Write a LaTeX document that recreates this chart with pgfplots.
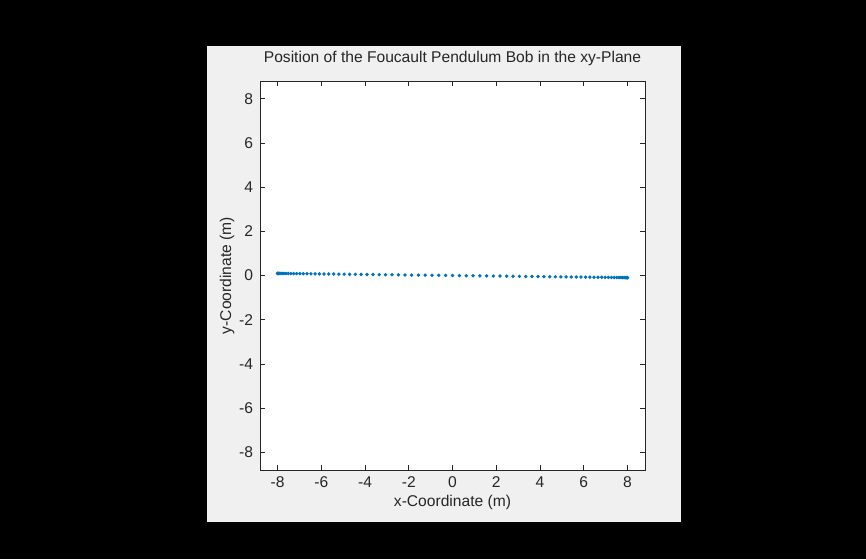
\documentclass[border=0pt]{standalone}
\usepackage{pgfplots}
\pgfplotsset{compat=1.18}
\usepackage{pgfplotstable}
\usepackage{fontspec}
\setmainfont{Liberation Sans}
\definecolor{mlblue}{HTML}{0072BD}
\definecolor{mlgray}{HTML}{F0F0F0}
\definecolor{mlaxis}{HTML}{262626}
\pgfplotstableread{
x y
-8.000 0.096
-7.994 0.096
-7.975 0.096
-7.945 0.095
-7.902 0.095
-7.846 0.094
-7.779 0.093
-7.700 0.092
-7.608 0.091
-7.506 0.090
-7.391 0.089
-7.265 0.087
-7.128 0.086
-6.980 0.084
-6.821 0.082
-6.652 0.080
-6.472 0.078
-6.282 0.075
-6.083 0.073
-5.875 0.071
-5.657 0.068
-5.430 0.065
-5.196 0.062
-4.953 0.059
-4.702 0.056
-4.445 0.053
-4.180 0.050
-3.909 0.047
-3.632 0.044
-3.349 0.040
-3.061 0.037
-2.769 0.033
-2.472 0.030
-2.172 0.026
-1.868 0.022
-1.561 0.019
-1.251 0.015
-0.940 0.011
-0.628 0.008
-0.314 0.004
0.000 0.000
0.314 -0.004
0.628 -0.008
0.940 -0.011
1.251 -0.015
1.561 -0.019
1.868 -0.022
2.172 -0.026
2.472 -0.030
2.769 -0.033
3.061 -0.037
3.349 -0.040
3.632 -0.044
3.909 -0.047
4.180 -0.050
4.445 -0.053
4.702 -0.056
4.953 -0.059
5.196 -0.062
5.430 -0.065
5.657 -0.068
5.875 -0.071
6.083 -0.073
6.282 -0.075
6.472 -0.078
6.652 -0.080
6.821 -0.082
6.980 -0.084
7.128 -0.086
7.265 -0.087
7.391 -0.089
7.506 -0.090
7.608 -0.091
7.700 -0.092
7.779 -0.093
7.846 -0.094
7.902 -0.095
7.945 -0.095
7.975 -0.096
7.994 -0.096
8.000 -0.096
}\bobdata
\begin{document}
\begin{tikzpicture}
\fill[black] (-130pt,-44.5pt) rectangle (303pt,235pt);
\fill[mlgray] (-26.5pt,-26pt) rectangle (210.5pt,212pt);
\begin{axis}[
  at={(0,0)}, anchor=south west,
  scale only axis,
  width=192.5pt, height=194.5pt,
  xmin=-8.8, xmax=8.8, ymin=-8.8, ymax=8.8,
  xtick={-8,-6,...,8}, ytick={-8,-6,...,8},
  tick align=inside, tick pos=both,
  major tick length=2.5pt,
  axis background/.style={fill=white},
  axis line style={mlaxis, line width=0.4pt},
  every tick/.style={mlaxis, line width=0.4pt},
  tick label style={font=\fontsize{7.8}{9}\selectfont, text=mlaxis},
  /pgf/number format/assume math mode=true,
  title={Position of the Foucault Pendulum Bob in the xy-Plane},
  title style={font=\fontsize{7.8}{9}\selectfont, text=mlaxis, at={(axis description cs:0.5,1)}, anchor=south, inner sep=1pt, yshift=0.5pt},
  xlabel={x-Coordinate (m)},
  ylabel={y-Coordinate (m)},
  xlabel style={font=\fontsize{7.8}{9}\selectfont, text=mlaxis, at={(axis description cs:0.5,-0.0823)}, anchor=center},
  ylabel style={font=\fontsize{7.8}{9}\selectfont, text=mlaxis, at={(axis description cs:-0.0857,0.5)}, anchor=center},
]
\addplot[only marks, mark=*, mark size=0.65pt, color=mlblue, mark options={draw=mlblue, fill=mlblue}] table[x=x,y=y] {\bobdata};
\end{axis}
\end{tikzpicture}
\end{document}
